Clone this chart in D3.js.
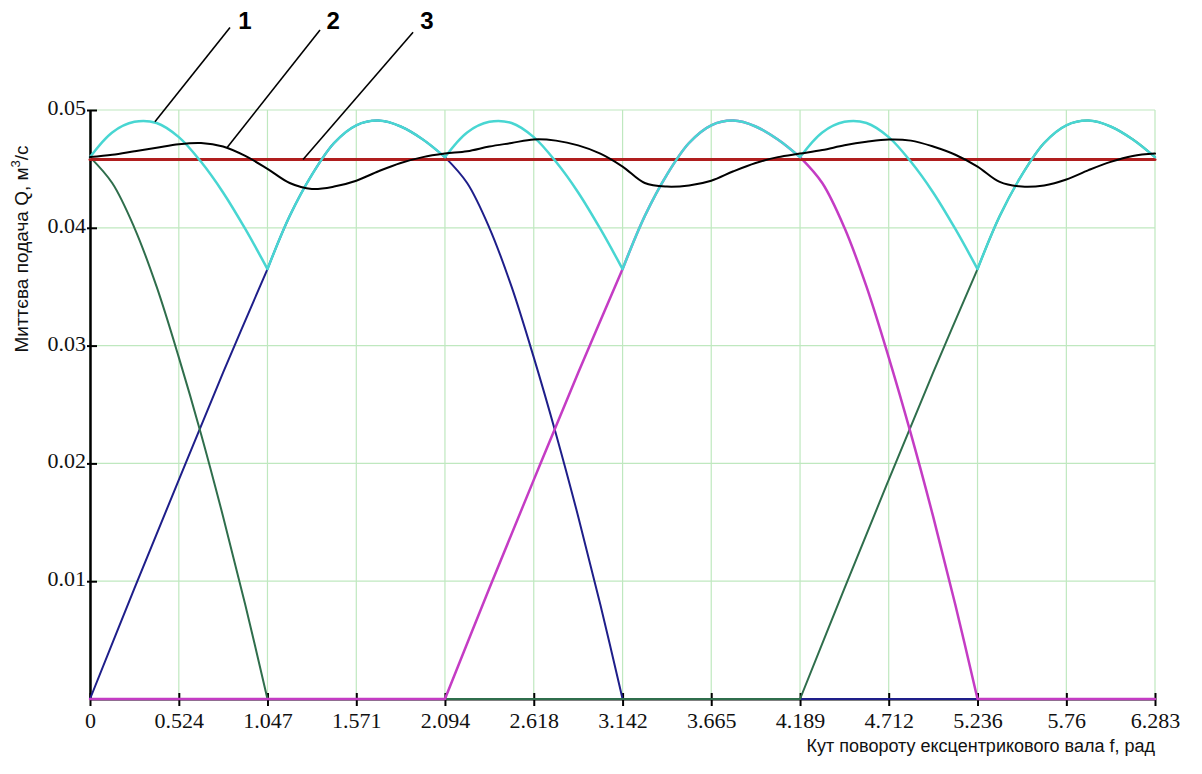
<!DOCTYPE html>
<html><head><meta charset="utf-8">
<script src="https://cdn.jsdelivr.net/npm/d3@7"></script>
<style>body{margin:0;background:#fff}svg{display:block}
.serif{font-family:"Liberation Serif","Times New Roman",serif !important;}
</style>
</head><body>
<svg id="c" width="1202" height="774"></svg>
<script>
// ---- data ----
const xTicks = [0, 0.524, 1.047, 1.571, 2.094, 2.618, 3.142, 3.665, 4.189, 4.712, 5.236, 5.76, 6.283];
const xTickLabels = ["0", "0.524", "1.047", "1.571", "2.094", "2.618", "3.142", "3.665", "4.189", "4.712", "5.236", "5.76", "6.283"];
const yTicks = [0.01, 0.02, 0.03, 0.04, 0.05];
const yTickLabels = ["0.01", "0.02", "0.03", "0.04", "0.05"];
const kinks = [0, 1.047, 2.094, 3.142, 4.189, 5.236, 6.283];

// piston 1 (dark blue)
const blueF = [0, 0.262, 0.524, 0.785, 1.047, 1.178, 1.309, 1.44, 1.571, 1.702, 1.833, 1.964, 2.094, 2.225, 2.356, 2.487, 2.618, 2.749, 2.88, 3.011, 3.142, 4.189, 5.236, 6.283];
const blueQ = [0, 0.0094, 0.0186, 0.0277, 0.0365, 0.0410, 0.0445, 0.0472, 0.0487, 0.0491, 0.0486, 0.0475, 0.0460, 0.0438, 0.0400, 0.0350, 0.0290, 0.0225, 0.0155, 0.0080, 0, 0, 0, 0];
// piston 2 (dark green)
const greenF = [0, 0.131, 0.262, 0.393, 0.524, 0.655, 0.785, 0.916, 1.047, 2.094, 3.142, 4.189, 4.451, 4.712, 4.974, 5.236, 5.367, 5.498, 5.629, 5.76, 5.891, 6.021, 6.152, 6.283];
const greenQ = [0.0460, 0.0438, 0.0400, 0.0350, 0.0290, 0.0225, 0.0155, 0.0080, 0, 0, 0, 0, 0.0094, 0.0186, 0.0277, 0.0365, 0.0410, 0.0445, 0.0472, 0.0487, 0.0491, 0.0486, 0.0475, 0.0460];
// piston 3 (magenta)
const magentaF = [0, 1.047, 2.094, 2.356, 2.618, 2.880, 3.142, 3.273, 3.403, 3.534, 3.665, 3.796, 3.927, 4.058, 4.189, 4.32, 4.451, 4.581, 4.712, 4.843, 4.974, 5.105, 5.236, 6.283];
const magentaQ = [0, 0, 0, 0.0094, 0.0186, 0.0277, 0.0365, 0.0410, 0.0445, 0.0472, 0.0487, 0.0491, 0.0486, 0.0475, 0.0460, 0.0438, 0.0400, 0.0350, 0.0290, 0.0225, 0.0155, 0.0080, 0, 0];
// curve 1: total flow (cyan)
const cyanF = [0, 0.131, 0.262, 0.393, 0.524, 0.655, 0.785, 0.916, 1.047, 1.178, 1.309, 1.44, 1.571, 1.702, 1.833, 1.964, 2.094,
  2.225, 2.356, 2.487, 2.618, 2.749, 2.88, 3.011, 3.142, 3.273, 3.403, 3.534, 3.665, 3.796, 3.927, 4.058, 4.189,
  4.32, 4.451, 4.581, 4.712, 4.843, 4.974, 5.105, 5.236, 5.367, 5.498, 5.629, 5.76, 5.891, 6.021, 6.152, 6.283];
const cyanQ = [0.0460, 0.0481, 0.0490, 0.0489, 0.0477, 0.0456, 0.0430, 0.0399, 0.0365, 0.0410, 0.0445, 0.0472, 0.0487, 0.0491, 0.0486, 0.0475, 0.0460,
  0.0481, 0.0490, 0.0489, 0.0477, 0.0456, 0.0430, 0.0399, 0.0365, 0.0410, 0.0445, 0.0472, 0.0487, 0.0491, 0.0486, 0.0475, 0.0460,
  0.0481, 0.0490, 0.0489, 0.0477, 0.0456, 0.0430, 0.0399, 0.0365, 0.0410, 0.0445, 0.0472, 0.0487, 0.0491, 0.0486, 0.0475, 0.0460];
// curve 2: black
const blackF = cyanF;
const blackQ = [0.0460, 0.0462, 0.0465, 0.0468, 0.0471, 0.0472, 0.0469, 0.0461, 0.0450, 0.0438, 0.0433, 0.0435, 0.0440, 0.0448, 0.0455, 0.0460, 0.0463,
  0.0465, 0.0469, 0.0472, 0.0475, 0.0474, 0.0470, 0.0463, 0.0452, 0.0438, 0.0435, 0.0436, 0.0440, 0.0448, 0.0455, 0.0460, 0.0463,
  0.0466, 0.0470, 0.0473, 0.0475, 0.0474, 0.0469, 0.0462, 0.0452, 0.0439, 0.0435, 0.0436, 0.0441, 0.0449, 0.0456, 0.0461, 0.0463];
// curve 3: mean flow (red)
const redF = [0, 6.283];
const redQ = [0.0458, 0.0458];

// annotations: [label, anchor f, anchor Q, end f, end Q, text f, text Q]
const notes = [
  ["1", 0.383, 0.0490, 0.826, 0.0570, 0.914, 0.0576],
  ["2", 0.808, 0.0468, 1.357, 0.0568, 1.434, 0.0576],
  ["3", 1.257, 0.0458, 1.906, 0.0566, 1.988, 0.0576]
];

// ---- drawing ----
const svg = d3.select("#c");
const x = d3.scaleLinear().domain([0, 6.283]).range([90, 1155]);
const y = d3.scaleLinear().domain([0, 0.05]).range([699, 110]);

// grid
const grid = svg.append("g").attr("stroke", "#bfe8bf").attr("stroke-width", 1.2);
xTicks.forEach(v => grid.append("line").attr("x1", x(v)).attr("x2", x(v)).attr("y1", y(0)).attr("y2", y(0.05)));
yTicks.forEach(v => grid.append("line").attr("x1", x(0)).attr("x2", x(6.283)).attr("y1", y(v)).attr("y2", y(v)));

// axes
const xAxis = d3.axisBottom(x).tickValues(xTicks).tickFormat((d, i) => xTickLabels[i]).tickSize(0).tickPadding(13);
const gx = svg.append("g").attr("transform", `translate(0,${y(0)})`).call(xAxis);
gx.attr("font-family", null).attr("font-size", null);
gx.select(".domain").attr("stroke", "#000").attr("stroke-width", 2);
gx.selectAll("text").attr("class", "serif").style("font-size", "22px").attr("fill", "#111");
gx.selectAll(".tick").append("line").attr("y1", -6).attr("y2", 7).attr("stroke", "#000").attr("stroke-width", 2);

const yAxis = d3.axisLeft(y).tickValues(yTicks).tickFormat((d, i) => yTickLabels[i]).tickSize(0).tickPadding(4);
const gy = svg.append("g").attr("transform", `translate(${x(0)},0)`).call(yAxis);
gy.attr("font-family", null).attr("font-size", null);
gy.select(".domain").attr("stroke", "#000").attr("stroke-width", 2.5);
gy.selectAll("text").attr("class", "serif").style("font-size", "22px").attr("fill", "#111").attr("dy", "0.2em");
gy.selectAll(".tick").append("line").attr("x1", -3).attr("x2", 7).attr("stroke", "#000").attr("stroke-width", 2);

// series helpers
const curveSeg = d3.curveCatmullRom.alpha(0.5);
function segPath(F, Q) {
  const pts = F.map((f, i) => [f, Q[i]]);
  const line = d3.line().x(d => x(d[0])).y(d => y(d[1])).curve(curveSeg);
  let out = "";
  for (let k = 0; k < kinks.length - 1; k++) {
    const seg = pts.filter(p => p[0] >= kinks[k] - 1e-6 && p[0] <= kinks[k + 1] + 1e-6);
    if (seg.length > 1) out += line(seg);
  }
  return out;
}
function smoothPath(F, Q) {
  return d3.line().x((d, i) => x(F[i])).y((d, i) => y(Q[i])).curve(d3.curveCatmullRom.alpha(0.5))(F);
}
const plot = svg.append("g").attr("fill", "none").attr("stroke-linejoin", "round").attr("stroke-linecap", "round");
plot.append("path").attr("d", segPath(blueF, blueQ)).attr("stroke", "#1e1e8a").attr("stroke-width", 2);
plot.append("path").attr("d", segPath(greenF, greenQ)).attr("stroke", "#2f6e4c").attr("stroke-width", 2);
plot.append("path").attr("d", segPath(magentaF, magentaQ)).attr("stroke", "#c43cc4").attr("stroke-width", 2.5);
plot.append("path").attr("d", smoothPath(redF, redQ)).attr("stroke", "#b01e1e").attr("stroke-width", 3);
plot.append("path").attr("d", segPath(cyanF, cyanQ)).attr("stroke", "#48d6d2").attr("stroke-width", 2.5);
plot.append("path").attr("d", smoothPath(blackF, blackQ)).attr("stroke", "#000").attr("stroke-width", 2);

// annotations
const ann = svg.append("g");
notes.forEach(n => {
  ann.append("line").attr("x1", x(n[1])).attr("y1", y(n[2])).attr("x2", x(n[3])).attr("y2", y(n[4]))
    .attr("stroke", "#000").attr("stroke-width", 1.6);
  ann.append("text").attr("x", x(n[5])).attr("y", y(n[6])).attr("text-anchor", "middle").attr("dy", "0.35em")
    .style("font-family", "'Liberation Sans Narrow','Liberation Sans',Arial,sans-serif").style("font-weight", "bold")
    .style("font-size", "24px").text(n[0]);
});

// axis titles
const yt = svg.append("text").attr("transform", `translate(28,${y(0.0382)}) rotate(-90)`).attr("text-anchor", "middle")
  .style("font-family", "'Liberation Sans',Arial,sans-serif").style("font-size", "19px").attr("fill", "#111");
yt.append("tspan").text("Миттєва подача Q,  м");
yt.append("tspan").style("font-size", "13px").attr("dy", -8).text("3");
yt.append("tspan").attr("dy", 8).text("/с");

svg.append("text").attr("x", x(6.283)).attr("y", 752).attr("text-anchor", "end")
  .style("font-family", "'Liberation Sans',Arial,sans-serif").style("font-size", "18px").attr("fill", "#111")
  .text("Кут повороту ексцентрикового вала  f, рад");
</script>
</body></html>
